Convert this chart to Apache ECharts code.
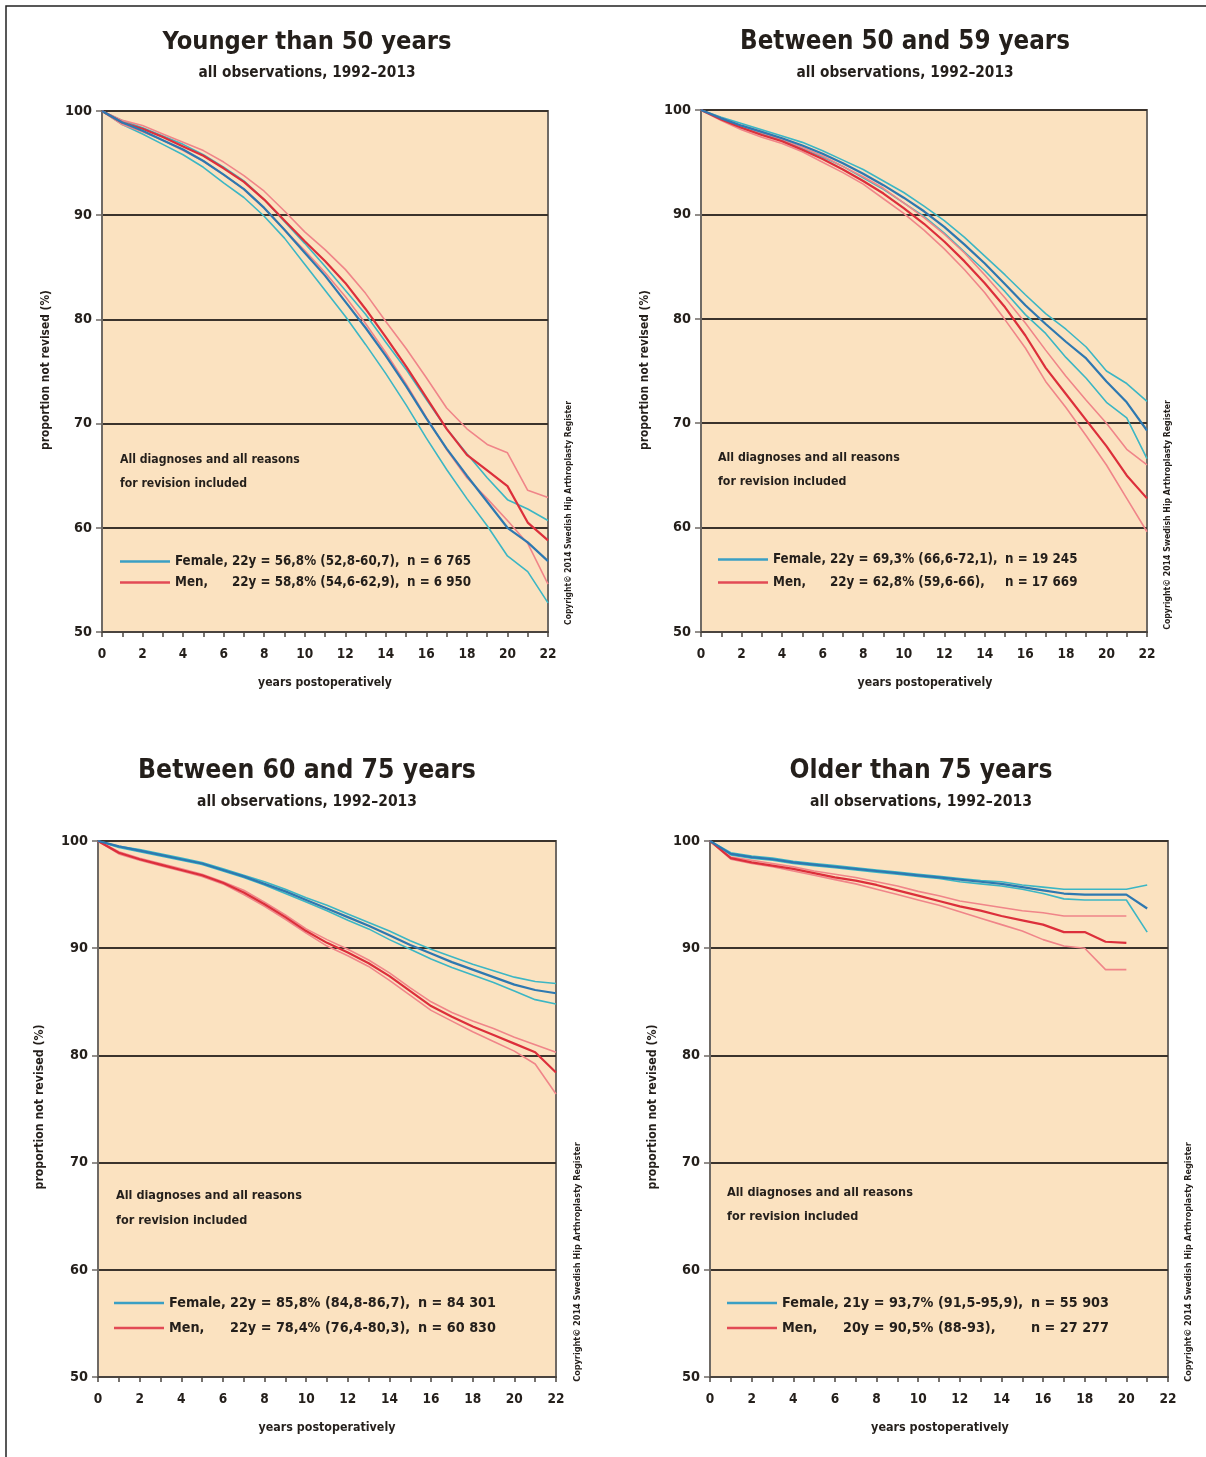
<!DOCTYPE html>
<html><head><meta charset="utf-8">
<script src="https://cdn.jsdelivr.net/npm/echarts@6/dist/echarts.min.js"></script>
<style>html,body{margin:0;padding:0;background:#fff}#c{width:1206px;height:1457px}</style>
</head><body><div id="c"></div>
<script>
// ---------- DATA ----------
const years = [0,1,2,3,4,5,6,7,8,9,10,11,12,13,14,15,16,17,18,19,20,21,22];
const xTickLabels = ['0','2','4','6','8','10','12','14','16','18','20','22'];
const yTickValues = [50,60,70,80,90,100];

const panelTitles = ['Younger than 50 years','Between 50 and 59 years','Between 60 and 75 years','Older than 75 years'];
const panelSubtitle = 'all observations, 1992–2013';
const yAxisTitle = 'proportion not revised (%)';
const xAxisTitle = 'years postoperatively';
const noteLines = ['All diagnoses and all reasons','for revision included'];
const copyrightText = 'Copyright© 2014 Swedish Hip Arthroplasty Register';

const femaleStat = ['22y = 56,8% (52,8-60,7),','22y = 69,3% (66,6-72,1),','22y = 85,8% (84,8-86,7),','21y = 93,7% (91,5-95,9),'];
const femaleN    = ['n = 6 765','n = 19 245','n = 84 301','n = 55 903'];
const menStat    = ['22y = 58,8% (54,6-62,9),','22y = 62,8% (59,6-66),','22y = 78,4% (76,4-80,3),','20y = 90,5% (88-93),'];
const menN       = ['n = 6 950','n = 17 669','n = 60 830','n = 27 277'];

// Panel 1: younger than 50
const p1FemaleEst = [100,98.9,98.1,97.2,96.3,95.2,93.9,92.5,90.7,88.6,86.4,84.2,81.7,79.2,76.5,73.6,70.5,67.6,65.0,62.5,60.0,58.6,56.8];
const p1FemaleLo  = [100,98.7,97.8,96.8,95.8,94.6,93.1,91.7,89.9,87.8,85.3,82.8,80.3,77.6,74.8,71.8,68.6,65.6,62.8,60.2,57.3,55.8,52.8];
const p1FemaleHi  = [100,99.1,98.4,97.6,96.8,95.8,94.6,93.3,91.5,89.4,87.3,85.1,82.8,80.5,77.8,75.2,72.3,69.5,67.1,64.8,62.7,61.8,60.7];
const p1MenEst    = [100,98.9,98.3,97.5,96.6,95.7,94.5,93.2,91.5,89.5,87.5,85.6,83.5,81.0,78.3,75.5,72.5,69.5,67.0,65.5,64.0,60.5,58.8];
const p1MenLo     = [100,98.7,98.0,97.2,96.2,95.2,93.9,92.5,90.7,88.6,86.6,84.5,82.2,79.6,76.8,73.8,70.6,67.5,64.8,62.8,60.7,58.5,54.6];
const p1MenHi     = [100,99.1,98.6,97.8,97.0,96.2,95.1,93.8,92.3,90.4,88.4,86.7,84.8,82.5,79.8,77.2,74.4,71.5,69.5,68.0,67.2,63.6,62.9];

// Panel 2: 50-59
const p2FemaleEst = [100,99.2,98.5,97.9,97.3,96.6,95.8,94.9,93.9,92.8,91.6,90.3,88.8,87.1,85.3,83.3,81.3,79.5,77.8,76.2,74.0,72.0,69.3];
const p2FemaleLo  = [100,99.1,98.3,97.7,97.1,96.3,95.5,94.6,93.5,92.4,91.1,89.8,88.2,86.4,84.6,82.6,80.4,78.6,76.3,74.3,72.0,70.5,66.6];
const p2FemaleHi  = [100,99.3,98.7,98.1,97.5,96.9,96.1,95.2,94.3,93.2,92.1,90.8,89.4,87.8,86.0,84.2,82.3,80.5,79.0,77.3,75.0,73.8,72.1];
const p2MenEst    = [100,99.1,98.3,97.6,97.0,96.2,95.3,94.3,93.2,92.0,90.6,89.1,87.4,85.5,83.4,81.1,78.4,75.3,72.8,70.3,67.8,65.0,62.8];
const p2MenLo     = [100,99.0,98.1,97.4,96.8,96.0,95.0,94.0,92.9,91.5,90.1,88.5,86.7,84.7,82.5,79.9,77.2,74.0,71.5,68.8,66.0,62.8,59.6];
const p2MenHi     = [100,99.2,98.5,97.8,97.2,96.4,95.6,94.6,93.6,92.5,91.1,89.7,88.1,86.3,84.2,82.0,79.6,77.0,74.5,72.2,70.0,67.5,66.0];

// Panel 3: 60-75
const p3FemaleEst = [100,99.5,99.1,98.7,98.3,97.9,97.3,96.7,96.0,95.3,94.5,93.7,92.9,92.1,91.2,90.3,89.5,88.7,88.0,87.3,86.6,86.1,85.8];
const p3FemaleLo  = [100,99.4,99.0,98.6,98.2,97.8,97.2,96.6,95.9,95.1,94.3,93.5,92.6,91.8,90.8,89.9,89.0,88.2,87.5,86.8,86.0,85.2,84.8];
const p3FemaleHi  = [100,99.5,99.2,98.8,98.4,98.0,97.4,96.8,96.2,95.5,94.7,94.0,93.2,92.4,91.6,90.7,89.9,89.2,88.5,87.9,87.3,86.9,86.7];
const p3MenEst    = [100,98.9,98.3,97.8,97.3,96.8,96.1,95.2,94.1,92.9,91.6,90.5,89.6,88.6,87.4,86.0,84.6,83.6,82.7,81.9,81.1,80.3,78.4];
const p3MenLo     = [100,98.8,98.2,97.7,97.2,96.7,96.0,95.0,93.9,92.7,91.4,90.2,89.3,88.3,87.0,85.6,84.2,83.2,82.2,81.3,80.4,79.2,76.4];
const p3MenHi     = [100,99.0,98.4,97.9,97.4,96.9,96.2,95.4,94.3,93.1,91.8,90.8,89.9,88.9,87.7,86.3,85.0,84.0,83.2,82.5,81.7,81.0,80.3];

// Panel 4: older than 75 (female to 21 years, men to 20 years)
const p4FemaleEst = [100,98.8,98.5,98.3,98.0,97.8,97.6,97.4,97.2,97.0,96.8,96.6,96.4,96.2,96.0,95.7,95.4,95.1,95.0,95.0,95.0,93.7];
const p4FemaleLo  = [100,98.7,98.4,98.2,97.9,97.7,97.5,97.3,97.1,96.9,96.7,96.5,96.2,96.0,95.8,95.5,95.1,94.6,94.5,94.5,94.5,91.5];
const p4FemaleHi  = [100,98.9,98.6,98.4,98.1,97.9,97.7,97.5,97.3,97.1,96.9,96.7,96.5,96.3,96.2,95.9,95.7,95.5,95.5,95.5,95.5,95.9];
const p4MenEst    = [100,98.4,98.0,97.7,97.4,97.0,96.6,96.3,95.9,95.4,94.9,94.4,93.9,93.5,93.0,92.6,92.2,91.5,91.5,90.6,90.5];
const p4MenLo     = [100,98.3,97.9,97.6,97.2,96.8,96.4,96.0,95.5,95.0,94.5,94.0,93.4,92.8,92.2,91.6,90.8,90.2,90.0,88.0,88.0];
const p4MenHi     = [100,98.5,98.2,97.9,97.6,97.2,96.9,96.6,96.2,95.8,95.3,94.9,94.4,94.1,93.8,93.5,93.3,93.0,93.0,93.0,93.0];

// ---------- STYLE / LAYOUT ----------
const COL = {fEst:'#2e78b0', fCI:'#3cb6c4', mEst:'#dc2f3b', mCI:'#f08589',
             fKey:'#3a9fc4', mKey:'#e24a55', text:'#241f1b', bg:'#fbe2c0',
             grid:'#3b332c', axis:'#6f6a65', xaxis:'#4a443f'};

function pickFamily(){
  const c = document.createElement('canvas').getContext('2d');
  const s = 'abcdefghijklmnopqrstuvwxyz0123456789';
  c.font = '40px monospace'; const w0 = c.measureText(s).width;
  c.font = "40px 'Liberation Sans Narrow', monospace"; const w1 = c.measureText(s).width;
  if (Math.abs(w1 - w0) > 0.5) return "'Liberation Sans Narrow', 'DejaVu Sans Condensed', sans-serif";
  return "'DejaVu Sans Condensed', 'Liberation Sans', sans-serif";
}
const FAM = pickFamily();
const mctx = document.createElement('canvas').getContext('2d');
function measure(text, size){ mctx.font = 'bold ' + size + 'px ' + FAM; return mctx.measureText(text).width; }
function fit(text, w){ return 100 * w / measure(text, 100); }

const layout = [
 {grid:{left:102,top:111,width:446,height:521}, title:[307,42,289], sub:[307,73,217], yname:[46,370,160], xname:[325,683,134], note:[120,460,484,180], copy:[569,513,224], legend:[120,565,28], aW:57},
 {grid:{left:701,top:110,width:446,height:522}, title:[905,42,330], sub:[905,73,217], yname:[645,370,160], xname:[925,683,135], note:[718,458,482,182], copy:[1168,515,230], legend:[718,563,30], aW:57},
 {grid:{left:98,top:841,width:458,height:536}, title:[307,771,338], sub:[307,802,220], yname:[40,1107,165], xname:[327,1428,137], note:[116,1196,1221,186], copy:[578,1262,240], legend:[114,1306,31], aW:61},
 {grid:{left:710,top:841,width:458,height:536}, title:[921,771,263], sub:[921,802,222], yname:[653,1107,165], xname:[940,1428,138], note:[727,1193,1217,186], copy:[1189,1262,240], legend:[727,1306,31], aW:61}
];

const panelData = [
 {fe:p1FemaleEst, fl:p1FemaleLo, fh:p1FemaleHi, me:p1MenEst, ml:p1MenLo, mh:p1MenHi},
 {fe:p2FemaleEst, fl:p2FemaleLo, fh:p2FemaleHi, me:p2MenEst, ml:p2MenLo, mh:p2MenHi},
 {fe:p3FemaleEst, fl:p3FemaleLo, fh:p3FemaleHi, me:p3MenEst, ml:p3MenLo, mh:p3MenHi},
 {fe:p4FemaleEst, fl:p4FemaleLo, fh:p4FemaleHi, me:p4MenEst, ml:p4MenLo, mh:p4MenHi}
];
const pairs = arr => arr.map((v,i) => [years[i], v]);

function txt(x, y, text, size, o){
  o = o || {};
  return {type:'text', x:x, y:y, rotation:o.rot||0, silent:true, z:100,
    style:{text:text, fontSize:size, fontFamily:FAM, fontWeight:o.weight||'bold', fill:COL.text,
      align:o.align||'center', textAlign:o.align||'center',
      verticalAlign:'middle', textVerticalAlign:'middle'}};
}

const yLabSize = fit('100', 27);
const xLabSize = fit('10', 17);

const grids = [], xAxes = [], yAxes = [], series = [], legends = [], graphics = [];
graphics.push({type:'rect', silent:true, shape:{x:6, y:6, width:1220, height:1480}, style:{fill:'none', stroke:'#222', lineWidth:1.5}, z:0});

layout.forEach((L, p) => {
  grids.push(Object.assign({show:true, backgroundColor:COL.bg, borderColor:COL.axis, borderWidth:2, containLabel:false}, L.grid));
  xAxes.push({type:'value', gridIndex:p, min:years[0], max:years[years.length-1], interval:1,
    axisLine:{show:true, onZero:false, lineStyle:{color:COL.xaxis, width:2}},
    axisTick:{show:true, length:5, lineStyle:{color:COL.xaxis, width:1.5}},
    splitLine:{show:false},
    axisLabel:{margin:15, fontSize:xLabSize, fontWeight:'bold', fontFamily:FAM, color:COL.text,
      formatter: v => xTickLabels.indexOf(String(v)) >= 0 ? String(v) : ''}});
  yAxes.push({type:'value', gridIndex:p, min:yTickValues[0], max:yTickValues[yTickValues.length-1], interval:10,
    axisLine:{show:true, onZero:false, lineStyle:{color:COL.axis, width:2}},
    axisTick:{show:true, length:6, lineStyle:{color:COL.axis, width:1.5}},
    splitLine:{show:true, lineStyle:{color:COL.grid, width:2}},
    axisLabel:{margin:10, fontSize:yLabSize, fontWeight:'bold', fontFamily:FAM, color:COL.text}});

  const D = panelData[p];
  const mk = (name, arr, color, w, z) => ({name:name, type:'line', xAxisIndex:p, yAxisIndex:p, data:pairs(arr),
      symbol:'none', silent:true, z:z, lineStyle:{color:color, width:w}, itemStyle:{color:color}});
  series.push(mk('Female lower limit', D.fl, COL.fCI, 1.6, 2));
  series.push(mk('Female upper limit', D.fh, COL.fCI, 1.6, 2));
  series.push(mk('Men lower limit', D.ml, COL.mCI, 1.6, 2));
  series.push(mk('Men upper limit', D.mh, COL.mCI, 1.6, 2));
  series.push(mk('Men', D.me, COL.mEst, 2.2, 3));
  series.push(mk('Female', D.fe, COL.fEst, 2.2, 3));

  // legend
  const fs = Math.min(fit('Female,', L.aW - 4), 19);
  const bW = Math.ceil(measure(femaleStat[p], fs)) + 7;
  const rs = {fontSize:fs, fontWeight:'bold', fontFamily:FAM, color:COL.text, lineHeight:20};
  legends.push({left:L.legend[0], top:L.legend[1]-10, orient:'vertical', padding:0,
    itemWidth:50, itemHeight:2.5, itemGap:L.legend[2]-20, icon:'rect', selectedMode:false,
    data:[{name:'Female', itemStyle:{color:COL.fKey, borderWidth:0}},
          {name:'Men', itemStyle:{color:COL.mKey, borderWidth:0}}],
    formatter: (function(pp){ return function(name){
      return name === 'Female' ? '{a|Female,}{b|' + femaleStat[pp] + '}{c|' + femaleN[pp] + '}'
                               : '{a|Men,}{b|' + menStat[pp] + '}{c|' + menN[pp] + '}'; }; })(p),
    textStyle:{rich:{a:Object.assign({width:L.aW}, rs), b:Object.assign({width:bW}, rs), c:Object.assign({}, rs)}}});

  // texts
  graphics.push(txt(L.title[0], L.title[1], panelTitles[p], Math.min(fit(panelTitles[p], L.title[2]), 34)));
  graphics.push(txt(L.sub[0], L.sub[1], panelSubtitle, Math.min(fit(panelSubtitle, L.sub[2]), 22)));
  graphics.push(txt(L.yname[0], L.yname[1], yAxisTitle, Math.min(fit(yAxisTitle, L.yname[2]), 17), {rot:Math.PI/2}));
  graphics.push(txt(L.xname[0], L.xname[1], xAxisTitle, Math.min(fit(xAxisTitle, L.xname[2]), 18)));
  const ns = Math.min(fit(noteLines[0], L.note[3]), 19);
  graphics.push(txt(L.note[0], L.note[1], noteLines[0], ns, {align:'left'}));
  graphics.push(txt(L.note[0], L.note[2], noteLines[1], ns, {align:'left'}));
  graphics.push(txt(L.copy[0], L.copy[1], copyrightText, Math.min(fit(copyrightText, L.copy[2]), 11), {rot:Math.PI/2}));
});

const chart = echarts.init(document.getElementById('c'), null, {renderer:'canvas'});
chart.setOption({backgroundColor:'#ffffff', animation:false, grid:grids, xAxis:xAxes, yAxis:yAxes,
  series:series, legend:legends, graphic:graphics});
</script></body></html>
